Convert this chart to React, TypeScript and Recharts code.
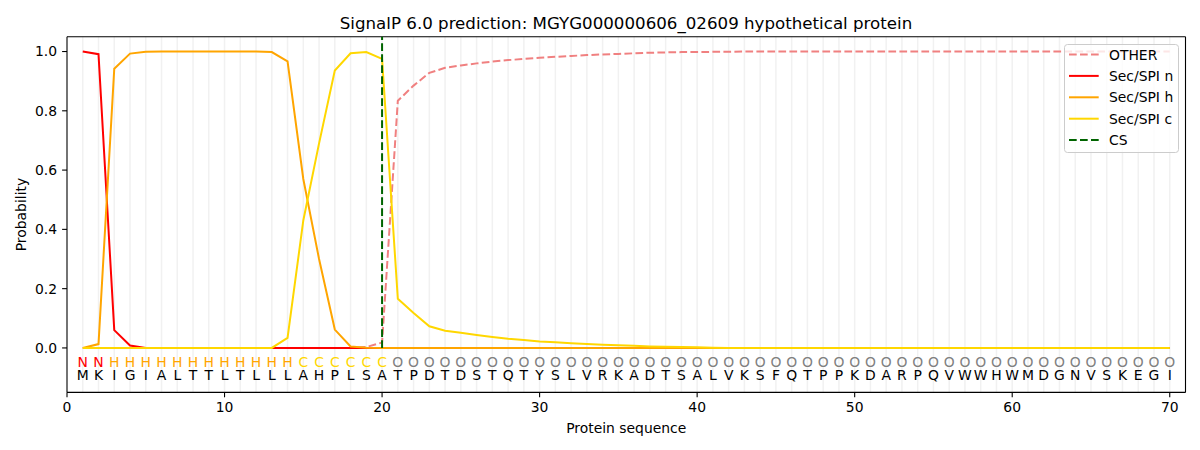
import React from "react";
import { ComposedChart, Line, XAxis, YAxis, ReferenceLine, Legend } from "recharts";

// ---------- data ----------
const residues = "MKIGIALTTLTLLLAHPLSATPDTDSTQTYSLVRKADTSALVKSFQTPPKDARPQVWWHWMDGNVSKEGI".split("");
const regions = ("NN" + "HHHHHHHHHHHH" + "CCCCCC" + "O".repeat(50)).split("");

const otherProb = [
  0, 0, 0, 0, 0, 0, 0, 0, 0, 0,
  0, 0, 0, 0, 0, 0, 0, 0, 0.003, 0.018,
  0.834, 0.885, 0.928, 0.945, 0.953, 0.96, 0.966, 0.971, 0.975, 0.979,
  0.982, 0.985, 0.988, 0.99, 0.992, 0.994, 0.996, 0.997, 0.998, 0.998,
  0.999, 0.999, 1, 1, 1, 1, 1, 1, 1, 1,
  1, 1, 1, 1, 1, 1, 1, 1, 1, 1,
  1, 1, 1, 1, 1, 1, 1, 1, 1, 1,
];
const secN = [
  1.0, 0.991, 0.06, 0.008, 0, 0, 0, 0, 0, 0,
  0, 0, 0, 0, 0, 0, 0, 0, 0, 0,
  0, 0, 0, 0, 0, 0, 0, 0, 0, 0,
  0, 0, 0, 0, 0, 0, 0, 0, 0, 0,
  0, 0, 0, 0, 0, 0, 0, 0, 0, 0,
  0, 0, 0, 0, 0, 0, 0, 0, 0, 0,
  0, 0, 0, 0, 0, 0, 0, 0, 0, 0,
];
const secH = [
  0, 0.013, 0.942, 0.993, 0.999, 1, 1, 1, 1, 1,
  1, 1, 0.998, 0.967, 0.57, 0.3, 0.062, 0.005, 0.001, 0,
  0, 0, 0, 0, 0, 0, 0, 0, 0, 0,
  0, 0, 0, 0, 0, 0, 0, 0, 0, 0,
  0, 0, 0, 0, 0, 0, 0, 0, 0, 0,
  0, 0, 0, 0, 0, 0, 0, 0, 0, 0,
  0, 0, 0, 0, 0, 0, 0, 0, 0, 0,
];
const secC = [
  0, 0, 0, 0, 0, 0, 0, 0, 0, 0,
  0, 0, 0, 0.034, 0.43, 0.69, 0.936, 0.994, 0.998, 0.975,
  0.166, 0.118, 0.073, 0.058, 0.051, 0.044, 0.037, 0.031, 0.027, 0.022,
  0.019, 0.016, 0.013, 0.011, 0.009, 0.007, 0.005, 0.004, 0.003, 0.002,
  0.001, 0, 0, 0, 0, 0, 0, 0, 0, 0,
  0, 0, 0, 0, 0, 0, 0, 0, 0, 0,
  0, 0, 0, 0, 0, 0, 0, 0, 0, 0,
];
const cleavageSite = 20;
const xTicks = [0, 10, 20, 30, 40, 50, 60, 70];
const yTicks = [0, 0.2, 0.4, 0.6, 0.8, 1.0];
const seriesNames = ["OTHER", "Sec/SPI n", "Sec/SPI h", "Sec/SPI c", "CS"];

// ---------- styles ----------
const FONT = "'DejaVu Sans', sans-serif";
const FS = 13.9;
const DASH = "7.7 3.3";
const colors = {
  other: "#F08080",
  n: "#FF0000",
  h: "#FFA500",
  c: "#FFD700",
  cs: "#006400",
};
const regionColors: Record<string, string> = {
  N: "#FF0000",
  H: "#FFA500",
  C: "#FFD700",
  O: "#808080",
};
const REGION_ROW_Y = -0.063;
const RESIDUE_ROW_Y = -0.109;

const table = residues.map((aa, i) => ({
  pos: i + 1,
  aa,
  region: regions[i],
  other: otherProb[i],
  n: secN[i],
  h: secH[i],
  c: secC[i],
}));

const legendItems = [
  { label: seriesNames[0], color: colors.other, dash: true },
  { label: seriesNames[1], color: colors.n, dash: false },
  { label: seriesNames[2], color: colors.h, dash: false },
  { label: seriesNames[3], color: colors.c, dash: false },
  { label: seriesNames[4], color: colors.cs, dash: true },
];

function renderLegend() {
  return (
    <svg width={116} height={110} style={{ display: "block", fontFamily: FONT }}>
      <rect x={0.5} y={0.5} width={114} height={108} rx={3} ry={3} fill="rgba(255,255,255,0.8)" stroke="#cccccc" strokeWidth={1} />
      {legendItems.map((it, i) => {
        const cy = 10.5 + i * 21.4;
        return (
          <g key={it.label}>
            <line x1={5} x2={34.7} y1={cy} y2={cy} stroke={it.color} strokeWidth={2} strokeDasharray={it.dash ? DASH : undefined} />
            <text x={45} y={cy + 5} fontSize={FS} fill="#000">
              {it.label}
            </text>
          </g>
        );
      })}
    </svg>
  );
}

const renderRegionDot = (props: any) => {
  const { cx, cy, index, payload } = props;
  return (
    <text key={`reg-${index}`} x={cx} y={cy} textAnchor="middle" fontSize={FS} fill={regionColors[payload.region]} fontFamily={FONT}>
      {payload.region}
    </text>
  );
};

const renderResidueDot = (props: any) => {
  const { cx, cy, index, payload } = props;
  return (
    <text key={`aa-${index}`} x={cx} y={cy} textAnchor="middle" fontSize={FS} fill="#000" fontFamily={FONT}>
      {payload.aa}
    </text>
  );
};

export default function App() {
  return (
    <div style={{ position: "absolute", left: 0, top: 0, width: 1200, height: 450, fontFamily: FONT, background: "#fff" }}>
      <div
        style={{
          position: "absolute",
          left: 226,
          width: 800,
          top: 15.9,
          textAlign: "center",
          fontSize: 16.67,
          lineHeight: "16.67px",
          color: "#000",
          fontFamily: FONT,
          whiteSpace: "nowrap",
        }}
      >
        SignalP 6.0 prediction: MGYG000000606_02609 hypothetical protein
      </div>
      <ComposedChart width={1200} height={450} data={table} margin={{ top: 36.7, right: 14.5, bottom: 0, left: 0 }}>
        {table.map((d) => (
          <ReferenceLine key={`g${d.pos}`} x={d.pos} stroke="#f1f1f1" strokeWidth={1.5} />
        ))}
        <XAxis
          type="number"
          dataKey="pos"
          domain={[0, 71]}
          ticks={xTicks}
          allowDataOverflow
          height={57.6}
          tickSize={4.9}
          tickMargin={5}
          tick={{ fill: "#000", fontSize: FS }}
          tickLine={{ stroke: "#000", strokeWidth: 1.1 }}
          axisLine={{ stroke: "#000", strokeWidth: 1.1 }}
          label={{
            content: (p: any) => {
              const vb = p.viewBox || { x: 67, y: 392.3, width: 1118.5 };
              return (
                <text x={vb.x + vb.width / 2} y={vb.y + 40.7} textAnchor="middle" fontSize={FS} fill="#000" fontFamily={FONT}>
                  Protein sequence
                </text>
              );
            },
          }}
        />
        <YAxis
          type="number"
          domain={[-0.15, 1.05]}
          ticks={yTicks}
          allowDataOverflow
          width={67}
          tickSize={4.9}
          tickMargin={5}
          tickFormatter={(v: number) => v.toFixed(1)}
          tick={{ fill: "#000", fontSize: FS }}
          tickLine={{ stroke: "#000", strokeWidth: 1.1 }}
          axisLine={{ stroke: "#000", strokeWidth: 1.1 }}
          label={{
            content: (p: any) => {
              const vb = p.viewBox || { x: 0, y: 36.7, width: 67, height: 355.6 };
              const cx = vb.x + 26;
              const cy = vb.y + vb.height / 2;
              return (
                <text x={cx} y={cy} transform={`rotate(-90 ${cx} ${cy})`} textAnchor="middle" fontSize={FS} fill="#000" fontFamily={FONT}>
                  Probability
                </text>
              );
            },
          }}
        />
        <ReferenceLine y={1.05} stroke="#000" strokeWidth={1.1} />
        <ReferenceLine x={71} stroke="#000" strokeWidth={1.1} />
        <Line type="linear" dataKey="other" name={seriesNames[0]} stroke={colors.other} strokeWidth={2} strokeDasharray={DASH} dot={false} activeDot={false} isAnimationActive={false} />
        <Line type="linear" dataKey="n" name={seriesNames[1]} stroke={colors.n} strokeWidth={2} dot={false} activeDot={false} isAnimationActive={false} />
        <Line type="linear" dataKey="h" name={seriesNames[2]} stroke={colors.h} strokeWidth={2} dot={false} activeDot={false} isAnimationActive={false} />
        <Line type="linear" dataKey="c" name={seriesNames[3]} stroke={colors.c} strokeWidth={2} dot={false} activeDot={false} isAnimationActive={false} />
        <ReferenceLine
          segment={[
            { x: cleavageSite, y: 0 },
            { x: cleavageSite, y: 1.05 },
          ]}
          stroke={colors.cs}
          strokeWidth={2}
          strokeDasharray={DASH}
        />
        <Line type="linear" dataKey={() => REGION_ROW_Y} stroke="none" dot={renderRegionDot} activeDot={false} legendType="none" isAnimationActive={false} />
        <Line type="linear" dataKey={() => RESIDUE_ROW_Y} stroke="none" dot={renderResidueDot} activeDot={false} legendType="none" isAnimationActive={false} />
        <Legend
          content={renderLegend}
          layout="horizontal"
          verticalAlign="middle"
          align="center"
          wrapperStyle={{ position: "absolute", left: 1064, top: 44, width: 116, height: 110 }}
        />
      </ComposedChart>
    </div>
  );
}
